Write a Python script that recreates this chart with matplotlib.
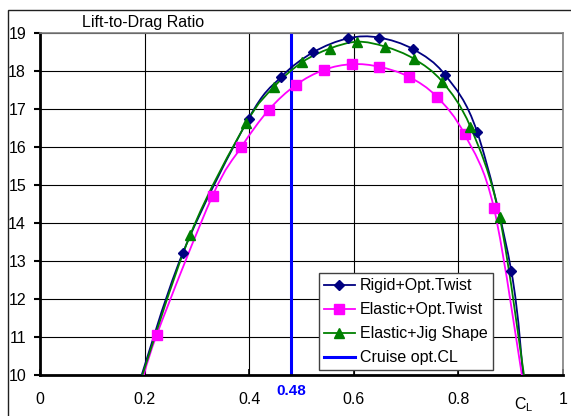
import matplotlib
matplotlib.use("Agg")
import matplotlib.pyplot as plt
from matplotlib.path import Path
from matplotlib.patches import PathPatch, Rectangle
from matplotlib.lines import Line2D

plt.rcParams['font.family'] = ['Liberation Sans', 'DejaVu Sans']

# series (first/last points lie below the axis and are clipped)
rigid_x = [0.183, 0.273, 0.399, 0.460, 0.522, 0.589, 0.648, 0.714, 0.775, 0.836, 0.901, 0.927]
rigid_y = [9.5, 13.21, 16.75, 17.83, 18.49, 18.86, 18.88, 18.57, 17.89, 16.39, 12.75, 9.5]

elopt_x = [0.189, 0.223, 0.330, 0.385, 0.437, 0.489, 0.543, 0.597, 0.649, 0.705, 0.759, 0.812, 0.868, 0.927]
elopt_y = [9.5, 11.05, 14.72, 16.00, 16.97, 17.63, 18.03, 18.18, 18.11, 17.85, 17.32, 16.33, 14.39, 9.5]

jig_x = [0.184, 0.287, 0.394, 0.448, 0.501, 0.554, 0.607, 0.660, 0.715, 0.769, 0.823, 0.879, 0.9305]
jig_y = [9.5, 13.68, 16.62, 17.59, 18.23, 18.59, 18.77, 18.64, 18.32, 17.72, 16.53, 14.15, 9.5]

cruise_cl = 0.48
labels = ["Rigid+Opt.Twist", "Elastic+Opt.Twist", "Elastic+Jig Shape", "Cruise opt.CL"]
xticks = [0, 0.2, 0.4, 0.6, 0.8, 1]
xticklabels = ["0", "0.2", "0.4", "0.6", "0.8", "1"]
yticks = list(range(10, 20))


def smooth_path(xs, ys):
    # catmull-rom -> cubic bezier, like Excel's smoothed line
    pts = list(zip(xs, ys))
    n = len(pts)
    verts = [pts[0]]
    codes = [Path.MOVETO]
    for i in range(n - 1):
        p0 = pts[i - 1] if i > 0 else pts[i]
        p1 = pts[i]
        p2 = pts[i + 1]
        p3 = pts[i + 2] if i + 2 < n else pts[i + 1]
        c1 = (p1[0] + (p2[0] - p0[0]) / 6, p1[1] + (p2[1] - p0[1]) / 6)
        c2 = (p2[0] - (p3[0] - p1[0]) / 6, p2[1] - (p3[1] - p1[1]) / 6)
        verts += [c1, c2, p2]
        codes += [Path.CURVE4] * 3
    return Path(verts, codes)


fs = 11.5
fig = plt.figure(figsize=(5.71, 4.16), dpi=100)
fig.patches.append(Rectangle((8 / 571, -0.2), 1.2, (416 - 10) / 416 + 0.2,
                             transform=fig.transFigure, fill=False,
                             edgecolor='#202020', lw=1.0))
ax = fig.add_axes([40 / 571, 41 / 416, 523 / 571, 342 / 416])
ax.set_xlim(0, 1)
ax.set_ylim(10, 19)

ax.set_xticks(xticks)
ax.set_xticklabels(xticklabels)
ax.set_yticks(yticks)
ax.grid(True, color='black', lw=0.8)
ax.set_axisbelow(True)
ax.tick_params(axis='both', labelsize=fs, colors='black')
ax.tick_params(axis='x', direction='in', length=4, width=1.2, pad=12)
ax.tick_params(axis='y', direction='out', length=4, width=1.5, pad=6)

for s in ['left', 'bottom']:
    ax.spines[s].set_linewidth(2)
    ax.spines[s].set_color('black')
for s in ['top', 'right']:
    ax.spines[s].set_linewidth(1.2)
    ax.spines[s].set_color('#808080')

ax.axvline(cruise_cl, color='#0000FF', lw=2.2, zorder=2)

series = [
    (rigid_x, rigid_y, '#000080', 'D', 5.5),
    (elopt_x, elopt_y, '#FF00FF', 's', 6.5),
    (jig_x, jig_y, '#008000', '^', 7),
]
handles = []
for (xs, ys, col, mk, ms), lab in zip(series, labels):
    ax.add_patch(PathPatch(smooth_path(xs, ys), fill=False, edgecolor=col, lw=1.3, zorder=3))
    ax.plot(xs[1:-1], ys[1:-1], ls='none', marker=mk, ms=ms, color=col, mec=col, zorder=4)
    handles.append(Line2D([], [], color=col, lw=1.3, marker=mk, ms=ms))
handles.append(Line2D([], [], color='#0000FF', lw=2.2))

leg = ax.legend(handles, labels, loc='lower left', bbox_to_anchor=(0.533, 0.014),
                fontsize=fs, frameon=True, fancybox=False, edgecolor='#404040',
                framealpha=1, handlelength=1.95, handletextpad=0.3,
                labelspacing=0.56, borderpad=0.32, borderaxespad=0)
leg.get_frame().set_linewidth(1.0)

ax.text(cruise_cl, -0.027, "0.48", transform=ax.get_xaxis_transform(),
        ha='center', va='top', color='#0000FF', fontsize=fs - 0.5, fontweight='bold')
ax.text(0.925, -0.06, r"$\mathregular{C_L}$", transform=ax.transAxes,
        ha='center', va='top', fontsize=fs)
fig.text(143 / 571, 1 - 22 / 416, "Lift-to-Drag Ratio", ha='center', va='center', fontsize=fs)

fig.savefig("out.png", dpi=100)
